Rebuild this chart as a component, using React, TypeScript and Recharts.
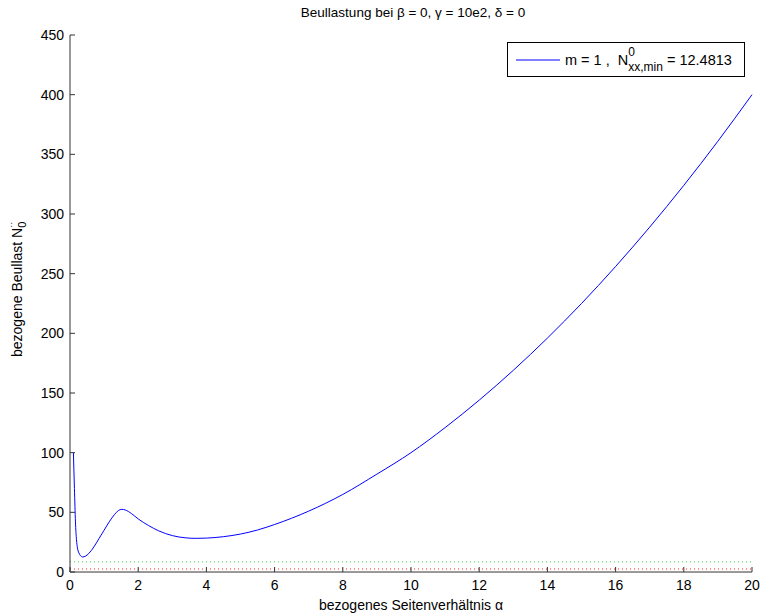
import React from "react";
import { Legend, Line, LineChart, ReferenceLine, XAxis, YAxis } from "recharts";

// aspect ratio alpha and the read-off buckling load for m = 1
const alpha = [
  0.1, 0.13, 0.16, 0.19, 0.22, 0.26, 0.3, 0.37, 0.45, 0.55, 0.7, 0.85, 1.0, 1.15, 1.3, 1.42, 1.52, 1.62, 1.8,
  2.0, 2.3, 2.6, 3.0, 3.4, 3.7, 4.0, 4.5, 5.0, 5.5, 6, 7, 8, 9, 10, 11, 12, 13, 14, 15, 16, 17, 18, 19, 20,
];
const beullast = [
  100, 70, 42, 27, 20, 16, 14, 12.6, 13.2, 15.5, 21, 28, 35, 42, 48, 51.5, 52.5, 52, 49,
  44.5, 39, 34.5, 30.5, 28.6, 28.2, 28.4, 29.6, 31.8, 35.2, 39.8, 51, 65, 82, 100, 121, 144, 169, 196, 225, 256, 289, 324, 361, 400,
];
const refLevels = [8.5, 2.5];
const refColors = ["#33dd33", "#ff2222"];
const xTicks = [0, 2, 4, 6, 8, 10, 12, 14, 16, 18, 20];
const yTicks = [0, 50, 100, 150, 200, 250, 300, 350, 400, 450];

const data = alpha.map((a, i) => ({ alpha: a, n: beullast[i] }));

const W = 761;
const H = 614;
const LEFT = 70;
const RIGHT = 752;
const TOP = 35;
const BOTTOM = 572;
const FONT = "'Liberation Sans', Arial, sans-serif";
const TICK_FS = 14;

function XTick({ x, payload }: any) {
  return (
    <g>
      <line x1={x} x2={x} y1={BOTTOM} y2={BOTTOM - 5} stroke="#333" />
      <text x={x} y={BOTTOM + 18} textAnchor="middle" fontSize={TICK_FS} fontFamily={FONT} fill="#000">
        {payload.value}
      </text>
    </g>
  );
}

function YTick({ y, payload }: any) {
  return (
    <g>
      <line x1={LEFT} x2={LEFT + 5} y1={y} y2={y} stroke="#333" />
      <text x={LEFT - 6} y={y + 5} textAnchor="end" fontSize={TICK_FS} fontFamily={FONT} fill="#000">
        {payload.value}
      </text>
    </g>
  );
}

function LegendBox() {
  return (
    <div
      style={{
        width: 238,
        height: 35,
        boxSizing: "border-box",
        border: "1px solid #000",
        background: "#fff",
        display: "flex",
        alignItems: "center",
        fontFamily: FONT,
        fontSize: 14.5,
        color: "#000",
        whiteSpace: "pre",
      }}
    >
      <svg width={49} height={10} style={{ marginLeft: 8 }}>
        <line x1={0} x2={44} y1={5} y2={5} stroke="#0000ff" strokeWidth={1} />
      </svg>
      <span>m = 1 ,  N</span>
      <span style={{ display: "inline-flex", flexDirection: "column", lineHeight: "12px", fontSize: 12 }}>
        <span style={{ position: "relative", top: -2 }}>0</span>
        <span style={{ position: "relative", top: 1 }}>xx,min</span>
      </span>
      <span> = 12.4813</span>
    </div>
  );
}

export default function App() {
  return (
    <div style={{ position: "absolute", left: 0, top: 0, width: W, height: H, background: "#fff" }}>
      <LineChart
        width={W}
        height={H}
        data={data}
        margin={{ top: TOP, right: W - RIGHT, bottom: 0, left: 0 }}
      >
        <XAxis
          type="number"
          dataKey="alpha"
          domain={[0, 20]}
          ticks={xTicks}
          height={H - BOTTOM}
          tick={<XTick />}
          tickLine={false}
          axisLine={{ stroke: "#333" }}
          interval={0}
        />
        <YAxis
          type="number"
          domain={[0, 450]}
          ticks={yTicks}
          width={LEFT}
          tick={<YTick />}
          tickLine={false}
          axisLine={{ stroke: "#333" }}
          interval={0}
        />
        {refLevels.map((v, i) => (
          <ReferenceLine key={i} y={v} stroke={refColors[i]} strokeDasharray="1 3" strokeWidth={1} />
        ))}
        <Legend
          verticalAlign="middle"
          align="center"
          layout="horizontal"
          content={<LegendBox />}
          wrapperStyle={{ position: "absolute", left: 507, top: 42, width: 238, height: 35 }}
        />
        <Line
          type="monotone"
          dataKey="n"
          stroke="#0000ff"
          strokeWidth={1}
          dot={false}
          isAnimationActive={false}
        />
      </LineChart>
      <svg width={W} height={H} style={{ position: "absolute", left: 0, top: 0, pointerEvents: "none" }}>
        <text x={413} y={17} textAnchor="middle" fontSize={13.5} fontFamily={FONT} fill="#000">
          Beullastung bei β = 0, γ = 10e2, δ = 0
        </text>
        <text x={411} y={610} textAnchor="middle" fontSize={14} fontFamily={FONT} fill="#000">
          bezogenes Seitenverhältnis α
        </text>
        <text
          transform="translate(22,357) rotate(-90)"
          x={0}
          y={0}
          fontSize={14}
          fontFamily={FONT}
          fill="#000"
        >
          bezogene Beullast N
          <tspan fontSize={11} dy={4}>0</tspan>
          <tspan fontSize={9} dx={-6} dy={-12}>··</tspan>
        </text>
      </svg>
    </div>
  );
}
